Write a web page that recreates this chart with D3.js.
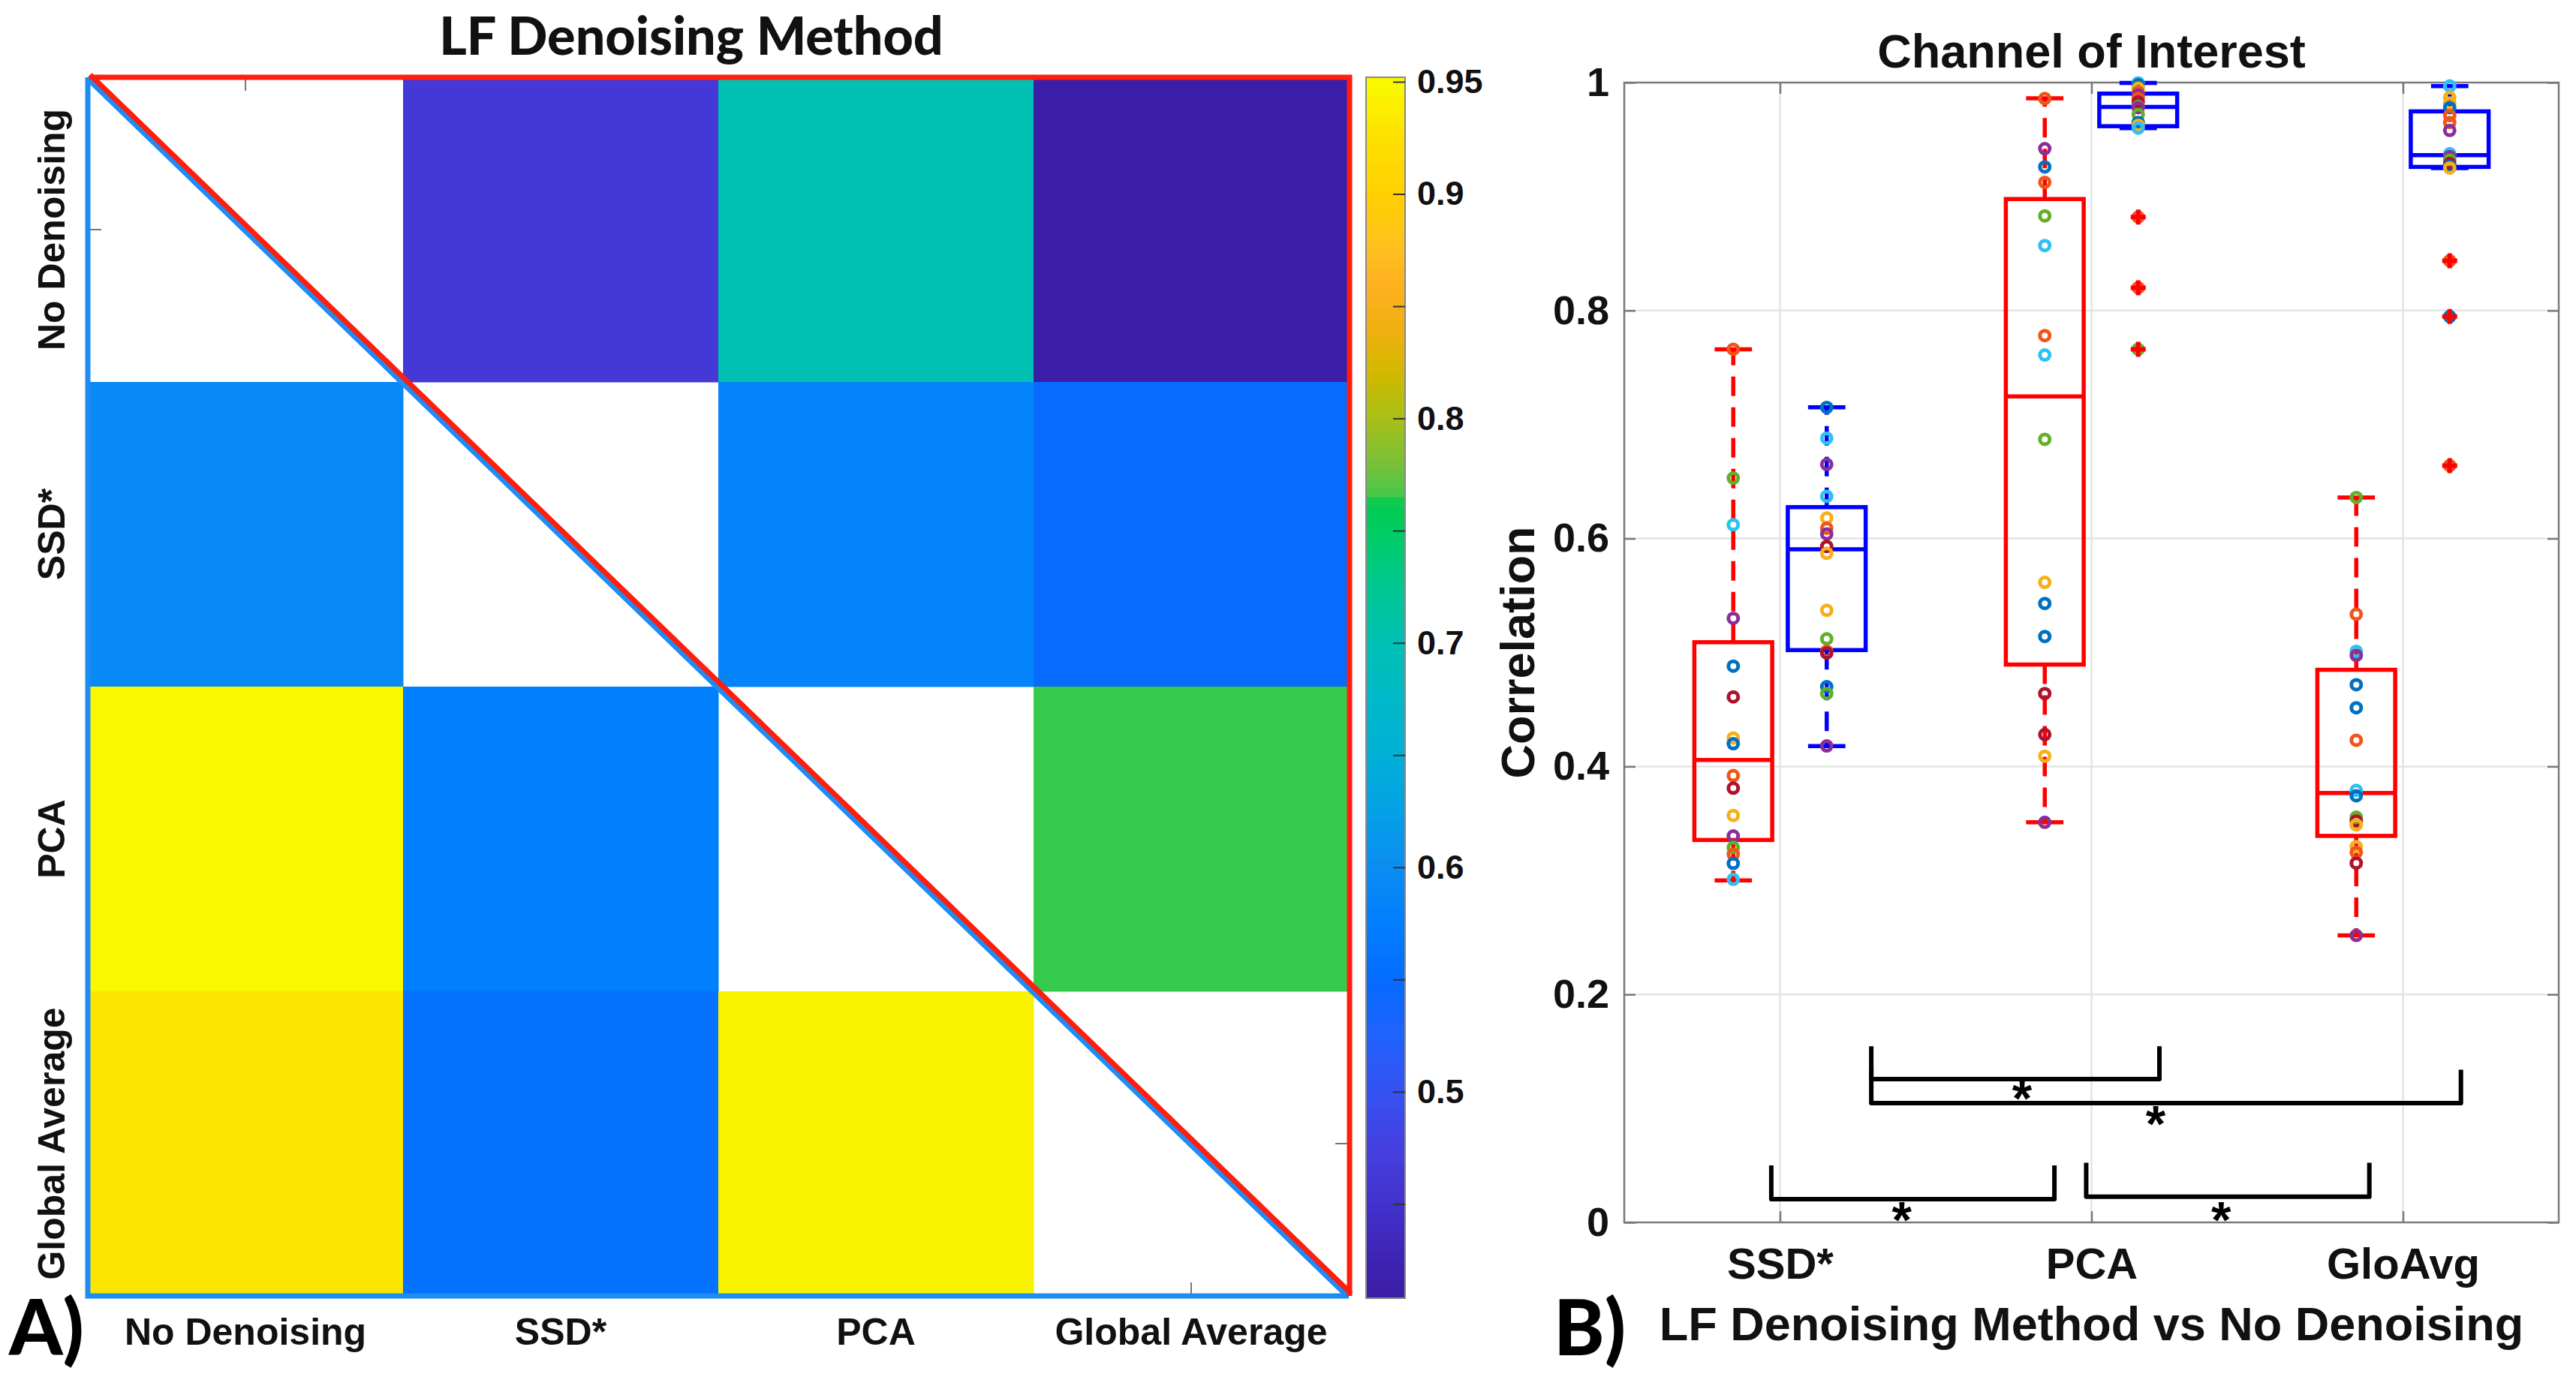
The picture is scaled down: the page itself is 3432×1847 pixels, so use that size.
<!DOCTYPE html>
<html><head><meta charset="utf-8">
<script src="https://cdn.jsdelivr.net/npm/d3@7"></script>
<style>html,body{margin:0;padding:0;background:#fff;} svg{display:block;}</style>
</head><body><svg id="chart" width="3432" height="1847"></svg>
<script>
// ================= DATA : panel A (correlation matrix) =================
const methods = ["No Denoising", "SSD*", "PCA", "Global Average"];
const corrRow0 = [null, 0.462, 0.700, 0.409];
const corrRow1 = [0.592, null, 0.585, 0.548];
const corrRow2 = [0.950, 0.576, null, 0.765];
const corrRow3 = [0.930, 0.558, 0.945, null];
const colorbarDomain = [0.408, 0.952];
const colorbarTicks = [0.45, 0.5, 0.55, 0.6, 0.65, 0.7, 0.75, 0.8, 0.85, 0.9, 0.95];
const colorbarLabels = ["", "0.5", "", "0.6", "", "0.7", "", "0.8", "", "0.9", "0.95"];
const cmapValues = [0.408, 0.43, 0.45, 0.475, 0.50, 0.525, 0.55, 0.575, 0.60, 0.625, 0.65, 0.675, 0.70, 0.725, 0.75, 0.762, 0.766, 0.78, 0.80, 0.82, 0.84, 0.86, 0.875, 0.90, 0.925, 0.952];
const cmapColors = ["#3b1ea6","#4026b8","#4231cc","#4640e0","#3552f2","#2062fc","#066cff","#007eff","#0a8ef2","#04a0e6","#00b0d6","#00b8c8","#00c0b4","#00c792","#00cc62","#00cc50","#48c94a","#78c038","#a8c018","#d2b800","#f0b010","#ffb020","#ffc020","#ffd000","#fde000","#f8fa00"];

// ================= DATA : panel B (box plots) =================
const groups = ["SSD*", "PCA", "GloAvg"];
const yTicks = [0, 0.2, 0.4, 0.6, 0.8, 1];
const yTickLabels = ["0", "0.2", "0.4", "0.6", "0.8", "1"];
// box statistics: [lower whisker, Q1, median, Q3, upper whisker]
const redBoxSSD = [0.300, 0.3355, 0.4057, 0.509, 0.766];
const redBoxPCA = [0.351, 0.4894, 0.7247, 0.8978, 0.9862];
const redBoxGlo = [0.2518, 0.3391, 0.3767, 0.4848, 0.6359];
const blueBoxSSD = [0.4178, 0.5021, 0.5905, 0.6275, 0.7151];
const blueBoxPCA = [0.960, 0.9617, 0.9786, 0.9903, 0.9997];
const blueBoxGlo = [0.925, 0.926, 0.9363, 0.9747, 0.9968];
// per-subject values and marker colour index
const redSSD  = [0.766, 0.653, 0.612, 0.530, 0.488, 0.461, 0.425, 0.420, 0.392, 0.381, 0.357, 0.339, 0.329, 0.323, 0.315, 0.301];
const redSSDc = [1, 4, 5, 3, 0, 6, 2, 0, 1, 6, 2, 3, 4, 1, 0, 5];
const blueSSD  = [0.715, 0.688, 0.665, 0.637, 0.618, 0.609, 0.604, 0.593, 0.587, 0.537, 0.512, 0.501, 0.4995, 0.470, 0.464, 0.418];
const blueSSDc = [0, 5, 3, 5, 2, 1, 3, 6, 2, 2, 4, 1, 6, 0, 4, 3];
const redPCA  = [0.986, 0.942, 0.926, 0.9125, 0.883, 0.857, 0.778, 0.761, 0.687, 0.5615, 0.543, 0.514, 0.464, 0.428, 0.409, 0.351];
const redPCAc = [1, 3, 0, 1, 4, 5, 1, 5, 4, 2, 0, 0, 6, 6, 2, 3];
const bluePCA  = [0.9997, 0.998, 0.995, 0.9915, 0.989, 0.986, 0.983, 0.979, 0.978, 0.972, 0.965, 0.9625, 0.960, 0.882, 0.820, 0.766];
const bluePCAc = [5, 0, 2, 1, 3, 1, 6, 4, 3, 4, 0, 2, 5, 1, 1, 4];
const redGlo  = [0.636, 0.5335, 0.501, 0.4975, 0.4717, 0.4515, 0.423, 0.379, 0.3743, 0.3555, 0.3522, 0.3488, 0.3297, 0.3246, 0.3152, 0.2518];
const redGloc = [4, 1, 5, 3, 0, 0, 1, 5, 0, 4, 6, 2, 2, 1, 6, 3];
const blueGlo  = [0.997, 0.987, 0.982, 0.978, 0.971, 0.965, 0.958, 0.9376, 0.935, 0.932, 0.929, 0.9265, 0.925, 0.8437, 0.7947, 0.664];
const blueGloc = [5, 2, 2, 0, 1, 1, 3, 5, 3, 4, 6, 0, 2, 1, 0, 1];
const blueOutPCA = [0.882, 0.820, 0.766];
const blueOutGlo = [0.8437, 0.7947, 0.664];
const subjectColors = ["#0070c0", "#f0561a", "#f5b01a", "#8a2f9a", "#62b02a", "#2cc2f2", "#b0122e"];
// significance brackets (x in group units, y in correlation units)
const bracketX1   = [1.293, 1.293, 0.972, 1.983];
const bracketX2   = [2.218, 3.186, 1.881, 2.892];
const bracketTop  = [0.1546, 0.1339, 0.0500, 0.0523];
const bracketBase = [0.1258, 0.1047, 0.0204, 0.0225];
const starX = [1.777, 2.206, 1.391, 2.416];
const starY = [0.1155, 0.0925, 0.0087, 0.0086];

// ================= RENDER =================
const svg = d3.select("#chart");
const ARIAL = "'Liberation Sans', Arial, Helvetica, sans-serif";
const LATO = "Lato, 'Open Sans', sans-serif";

// ----- panel A -----
const matrix = [corrRow0, corrRow1, corrRow2, corrRow3];
const hx = d3.scaleBand().domain(methods).range([117, 1797]);
const hy = d3.scaleBand().domain(methods).range([103, 1727]);
const cmap = d3.scaleLinear().domain(cmapValues).range(cmapColors).interpolate(d3.interpolateRgb).clamp(true);

const gA = svg.append("g");
// ticks at cell centres (hidden under coloured cells)
const tk = gA.append("g").attr("stroke", "#777").attr("stroke-width", 2);
methods.forEach(m => {
  const cx = hx(m) + hx.bandwidth() / 2, cy = hy(m) + hy.bandwidth() / 2;
  tk.append("line").attr("x1", cx).attr("x2", cx).attr("y1", 103).attr("y2", 121);
  tk.append("line").attr("x1", cx).attr("x2", cx).attr("y1", 1727).attr("y2", 1709);
  tk.append("line").attr("y1", cy).attr("y2", cy).attr("x1", 117).attr("x2", 135);
  tk.append("line").attr("y1", cy).attr("y2", cy).attr("x1", 1797).attr("x2", 1779);
});
const cells = [];
matrix.forEach((row, r) => row.forEach((v, c) => { if (v !== null) cells.push({ r: methods[r], c: methods[c], v }); }));
gA.append("g").selectAll("rect").data(cells).join("rect")
  .attr("x", d => hx(d.c)).attr("y", d => hy(d.r))
  .attr("width", hx.bandwidth() + 0.5).attr("height", hy.bandwidth() + 0.5)
  .attr("fill", d => cmap(d.v));

// triangle outlines
const X0 = hx.range()[0], X1 = hx.range()[1], Y0 = hy.range()[0], Y1 = hy.range()[1];
const dl = Math.hypot(X1 - X0, Y1 - Y0);
const px = (Y1 - Y0) / dl, py = -(X1 - X0) / dl; // perpendicular pointing up-right
const ob = -1.5, orr = 4.5;
gA.append("path")
  .attr("d", `M${X0 + ob * px},${Y0 + ob * py} L${X1 + ob * px},${Y1 + ob * py} M${X1},${Y1} L${X0},${Y1} L${X0},${Y0}`)
  .attr("fill", "none").attr("stroke", "#1f8cf5").attr("stroke-width", 7).attr("stroke-linejoin", "miter");
gA.append("path")
  .attr("d", `M${X0 + orr * px},${Y0 + orr * py} L${X1 + orr * px},${Y1 + orr * py} M${X1 + 1},${Y1} L${X1 + 1},${Y0} L${X0 + 2},${Y0}`)
  .attr("fill", "none").attr("stroke", "#ff1e0e").attr("stroke-width", 7).attr("stroke-linejoin", "miter");

// colorbar
const cbY = d3.scaleLinear().domain(colorbarDomain).range([1730, 103]);
const nBands = 128;
const bandVals = d3.range(nBands).map(i => colorbarDomain[0] + (colorbarDomain[1] - colorbarDomain[0]) * i / nBands);
const bandH = (cbY(colorbarDomain[0]) - cbY(colorbarDomain[1])) / nBands;
gA.append("g").selectAll("rect").data(bandVals).join("rect")
  .attr("x", 1820).attr("width", 52)
  .attr("y", d => cbY(d) - bandH - 0.5).attr("height", bandH + 1)
  .attr("fill", d => cmap(d + (colorbarDomain[1] - colorbarDomain[0]) / nBands / 2));
gA.append("rect").attr("x", 1820).attr("y", 103).attr("width", 52).attr("height", 1627)
  .attr("fill", "none").attr("stroke", "#888").attr("stroke-width", 2);
const cbAxis = d3.axisRight(cbY).tickValues(colorbarTicks)
  .tickFormat((d, i) => colorbarLabels[i]).tickSize(-16).tickPadding(16);
const cbG = gA.append("g").attr("transform", "translate(1872,0)").call(cbAxis);
cbG.select(".domain").remove();
cbG.selectAll(".tick line").attr("stroke", "#333").attr("stroke-width", 2);
cbG.selectAll(".tick text").attr("font-family", ARIAL).attr("font-weight", "bold")
  .attr("font-size", 45).attr("fill", "#111");

// labels panel A
gA.append("text").attr("x", 921).attr("y", 73).attr("text-anchor", "middle")
  .attr("font-family", LATO).attr("font-weight", 900).attr("font-size", 70).attr("fill", "#111")
  .text("LF Denoising Method");
gA.append("g").selectAll("text").data(methods).join("text")
  .attr("x", d => hx(d) + hx.bandwidth() / 2).attr("y", 1792).attr("text-anchor", "middle")
  .attr("font-family", ARIAL).attr("font-weight", "bold").attr("font-size", 50).attr("fill", "#111")
  .text(d => d);
gA.append("g").selectAll("text").data(methods).join("text")
  .attr("transform", d => `translate(86,${hy(d) + hy.bandwidth() / 2}) rotate(-90)`)
  .attr("text-anchor", "middle")
  .attr("font-family", ARIAL).attr("font-weight", "bold").attr("font-size", 50).attr("fill", "#111")
  .text(d => d);
gA.append("text").attr("x", 12).attr("y", 1806)
  .attr("font-family", LATO).attr("font-weight", 900).attr("font-size", 102).attr("fill", "#000")
  .text("A)");

// ----- panel B -----
const gB = svg.append("g");
const x = d3.scaleLinear().domain([0.5, 3.5]).range([2164, 3409]);
const y = d3.scaleLinear().domain([0, 1]).range([1629, 110]);

// grid
gB.append("g").selectAll("line").data(yTicks.slice(1, -1)).join("line")
  .attr("x1", x(0.5)).attr("x2", x(3.5)).attr("y1", d => y(d)).attr("y2", d => y(d))
  .attr("stroke", "#e4e4e4").attr("stroke-width", 2.5);
gB.append("g").selectAll("line").data(groups).join("line")
  .attr("x1", (d, i) => x(i + 1)).attr("x2", (d, i) => x(i + 1)).attr("y1", y(0)).attr("y2", y(1))
  .attr("stroke", "#e4e4e4").attr("stroke-width", 2.5);

// frame + ticks
gB.append("rect").attr("x", x(0.5)).attr("y", y(1)).attr("width", x(3.5) - x(0.5)).attr("height", y(0) - y(1))
  .attr("fill", "none").attr("stroke", "#7a7a7a").attr("stroke-width", 2.5);
const yAxis = d3.axisLeft(y).tickValues(yTicks).tickFormat((d, i) => yTickLabels[i]).tickSize(-15).tickPadding(20);
const yG = gB.append("g").attr("transform", `translate(${x(0.5)},0)`).call(yAxis);
yG.select(".domain").remove();
yG.selectAll(".tick line").attr("stroke", "#7a7a7a").attr("stroke-width", 2.5);
yG.selectAll(".tick text").attr("font-family", ARIAL).attr("font-weight", "bold").attr("font-size", 54).attr("fill", "#111");
const yAxisR = d3.axisRight(y).tickValues(yTicks).tickFormat("").tickSize(-15);
const yGR = gB.append("g").attr("transform", `translate(${x(3.5)},0)`).call(yAxisR);
yGR.select(".domain").remove();
yGR.selectAll(".tick line").attr("stroke", "#7a7a7a").attr("stroke-width", 2.5);
const xAxis = d3.axisBottom(x).tickValues([1, 2, 3]).tickFormat((d, i) => groups[i]).tickSize(-15).tickPadding(34);
const xG = gB.append("g").attr("transform", `translate(0,${y(0)})`).call(xAxis);
xG.select(".domain").remove();
xG.selectAll(".tick line").attr("stroke", "#7a7a7a").attr("stroke-width", 2.5);
xG.selectAll(".tick text").attr("font-family", ARIAL).attr("font-weight", "bold").attr("font-size", 58).attr("fill", "#111");
const xAxisT = d3.axisTop(x).tickValues([1, 2, 3]).tickFormat("").tickSize(-15);
const xGT = gB.append("g").attr("transform", `translate(0,${y(1)})`).call(xAxisT);
xGT.select(".domain").remove();
xGT.selectAll(".tick line").attr("stroke", "#7a7a7a").attr("stroke-width", 2.5);

// boxes
const boxW = 0.25, capW = 0.12;
const boxSets = [
  { stats: [redBoxSSD, redBoxPCA, redBoxGlo], off: -0.15, color: "#ff0000" },
  { stats: [blueBoxSSD, blueBoxPCA, blueBoxGlo], off: 0.15, color: "#0000ff" }
];
boxSets.forEach(set => {
  const g = gB.append("g").attr("stroke", set.color).attr("stroke-width", 5.5).attr("fill", "none");
  set.stats.forEach((s, i) => {
    const c = i + 1 + set.off;
    const [lw, q1, med, q3, uw] = s;
    g.append("line").attr("x1", x(c)).attr("x2", x(c)).attr("y1", y(q3)).attr("y2", y(uw)).attr("stroke-dasharray", "26,15");
    g.append("line").attr("x1", x(c)).attr("x2", x(c)).attr("y1", y(q1)).attr("y2", y(lw)).attr("stroke-dasharray", "26,15");
    g.append("line").attr("x1", x(c - capW / 2)).attr("x2", x(c + capW / 2)).attr("y1", y(uw)).attr("y2", y(uw));
    g.append("line").attr("x1", x(c - capW / 2)).attr("x2", x(c + capW / 2)).attr("y1", y(lw)).attr("y2", y(lw));
    g.append("rect").attr("x", x(c - boxW / 2)).attr("width", x(c + boxW / 2) - x(c - boxW / 2))
      .attr("y", y(q3)).attr("height", y(q1) - y(q3));
    g.append("line").attr("x1", x(c - boxW / 2)).attr("x2", x(c + boxW / 2)).attr("y1", y(med)).attr("y2", y(med));
  });
});

// subject points
const pointSets = [
  { v: redSSD, c: redSSDc, pos: 1 - 0.15 }, { v: blueSSD, c: blueSSDc, pos: 1 + 0.15 },
  { v: redPCA, c: redPCAc, pos: 2 - 0.15 }, { v: bluePCA, c: bluePCAc, pos: 2 + 0.15 },
  { v: redGlo, c: redGloc, pos: 3 - 0.15 }, { v: blueGlo, c: blueGloc, pos: 3 + 0.15 }
];
pointSets.forEach(ps => {
  gB.append("g").selectAll("circle").data(ps.v.map((v, i) => ({ v, ci: ps.c[i] }))).join("circle")
    .attr("cx", x(ps.pos)).attr("cy", d => y(d.v)).attr("r", 6.5)
    .attr("fill", "none").attr("stroke", d => subjectColors[d.ci]).attr("stroke-width", 5);
});
// outliers
[{ v: blueOutPCA, pos: 2.15 }, { v: blueOutGlo, pos: 3.15 }].forEach(o => {
  gB.append("g").selectAll("path").data(o.v).join("path")
    .attr("transform", d => `translate(${x(o.pos)},${y(d)})`)
    .attr("d", "M-10,0H10M0,-10V10").attr("stroke", "#ff0000").attr("stroke-width", 6).attr("fill", "none");
});

// significance brackets
const br = gB.append("g").attr("stroke", "#000").attr("stroke-width", 6).attr("fill", "none").attr("stroke-linejoin", "round");
bracketX1.forEach((x1, i) => {
  br.append("path").attr("d", `M${x(x1)},${y(bracketTop[i])} L${x(x1)},${y(bracketBase[i])} L${x(bracketX2[i])},${y(bracketBase[i])} L${x(bracketX2[i])},${y(bracketTop[i])}`);
});
gB.append("g").selectAll("text").data(starX).join("text")
  .attr("x", d => x(d)).attr("y", (d, i) => y(starY[i]) + 33).attr("text-anchor", "middle")
  .attr("font-family", ARIAL).attr("font-weight", "bold").attr("font-size", 68).attr("fill", "#000")
  .text("*");

// titles panel B
gB.append("text").attr("x", (x(0.5) + x(3.5)) / 2).attr("y", 90).attr("text-anchor", "middle")
  .attr("font-family", ARIAL).attr("font-weight", "bold").attr("font-size", 63).attr("fill", "#111")
  .text("Channel of Interest");
gB.append("text").attr("transform", `translate(2044,${(y(0) + y(1)) / 2}) rotate(-90)`).attr("text-anchor", "middle")
  .attr("font-family", ARIAL).attr("font-weight", "bold").attr("font-size", 63).attr("fill", "#111")
  .text("Correlation");
gB.append("text").attr("x", (x(0.5) + x(3.5)) / 2).attr("y", 1786).attr("text-anchor", "middle")
  .attr("font-family", ARIAL).attr("font-weight", "bold").attr("font-size", 63).attr("fill", "#111")
  .text("LF Denoising Method vs No Denoising");
gB.append("text").attr("x", 2070).attr("y", 1806)
  .attr("font-family", LATO).attr("font-weight", 900).attr("font-size", 102).attr("fill", "#000")
  .text("B)");
</script></body></html>
